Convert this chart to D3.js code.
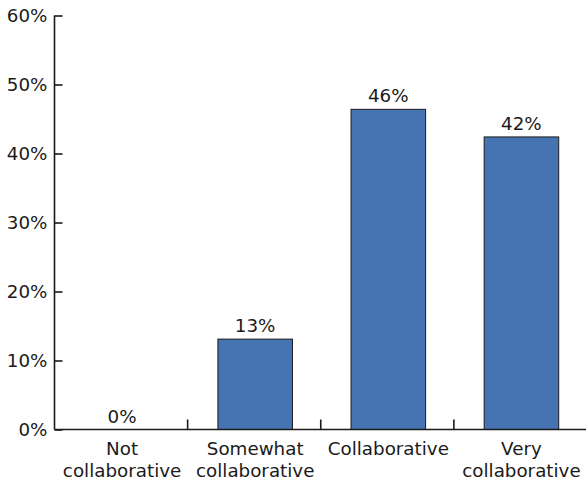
<!DOCTYPE html>
<html>
<head>
<meta charset="utf-8">
<script src="https://cdn.jsdelivr.net/npm/d3@7"></script>
<style>
  body { margin: 0; background: #fff; }
  text { font-family: "DejaVu Sans", sans-serif; fill: #1a1a1a; }
</style>
</head>
<body>
<svg id="chart" width="586" height="484"></svg>
<script>
const categories = [["Not", "collaborative"], ["Somewhat", "collaborative"], ["Collaborative"], ["Very", "collaborative"]]
const values = [0, 13.1, 46.4, 42.4]
const valueLabels = ["0%", "13%", "46%", "42%"]
const yTicks = [0, 10, 20, 30, 40, 50, 60]

const fontSize = "18.3px"
const svg = d3.select("#chart")
const plotLeft = 54.5, plotRight = 587, plotTop = 15.5, plotBottom = 429.5

const x = d3.scaleBand()
    .domain(d3.range(categories.length))
    .range([plotLeft, plotRight])
    .paddingInner(0.44)
    .paddingOuter(0.22)

const y = d3.scaleLinear().domain([0, 60]).range([plotBottom, plotTop])

// bars
svg.selectAll(".bar")
    .data(values)
    .enter()
    .append("rect")
    .attr("class", "bar")
    .attr("x", (d, i) => x(i) + 1)
    .attr("y", d => y(d))
    .attr("width", x.bandwidth())
    .attr("height", d => y(0) - y(d))
    .attr("fill", "#4673b1")
    .attr("stroke", "#1a1a1a")
    .attr("stroke-width", 1)

// value labels
svg.selectAll(".val")
    .data(values)
    .enter()
    .append("text")
    .attr("class", "val")
    .attr("x", (d, i) => x(i) + 1 + x.bandwidth() / 2)
    .attr("y", d => y(d) - 7)
    .attr("text-anchor", "middle")
    .style("font-size", fontSize)
    .text((d, i) => valueLabels[i])

// y axis, ticks pointing inward
const yAxis = svg.append("g")
    .attr("transform", "translate(" + plotLeft + ",0)")
    .call(d3.axisLeft(y).tickValues(yTicks).tickSize(-8).tickPadding(7).tickFormat(d => d + "%"))
yAxis.selectAll("path, line").attr("stroke", "#1a1a1a").attr("stroke-width", 1.6)
yAxis.selectAll("text").style("font-size", fontSize).attr("fill", "#1a1a1a")
yAxis.select(".domain").attr("d", "M0," + plotTop + "V" + plotBottom)

// x axis baseline
svg.append("line")
    .attr("x1", plotLeft).attr("x2", plotRight)
    .attr("y1", plotBottom).attr("y2", plotBottom)
    .attr("stroke", "#1a1a1a").attr("stroke-width", 1.6)

// separators between categories
const bandW = (plotRight - plotLeft) / categories.length
svg.selectAll(".sep")
    .data(d3.range(1, categories.length))
    .enter()
    .append("line")
    .attr("class", "sep")
    .attr("x1", i => plotLeft + i * bandW)
    .attr("x2", i => plotLeft + i * bandW)
    .attr("y1", plotBottom)
    .attr("y2", plotBottom - 10)
    .attr("stroke", "#1a1a1a").attr("stroke-width", 1.6)

// category labels
const catText = svg.selectAll(".cat")
    .data(categories)
    .enter()
    .append("text")
    .attr("class", "cat")
    .attr("text-anchor", "middle")
    .style("font-size", fontSize)
    .attr("transform", (d, i) => "translate(" + (x(i) + 1 + x.bandwidth() / 2) + "," + 455 + ")")

catText.selectAll("tspan")
    .data(d => d)
    .enter()
    .append("tspan")
    .attr("x", 0)
    .attr("dy", (d, i) => i === 0 ? 0 : 22)
    .text(d => d)
</script>
</body>
</html>
